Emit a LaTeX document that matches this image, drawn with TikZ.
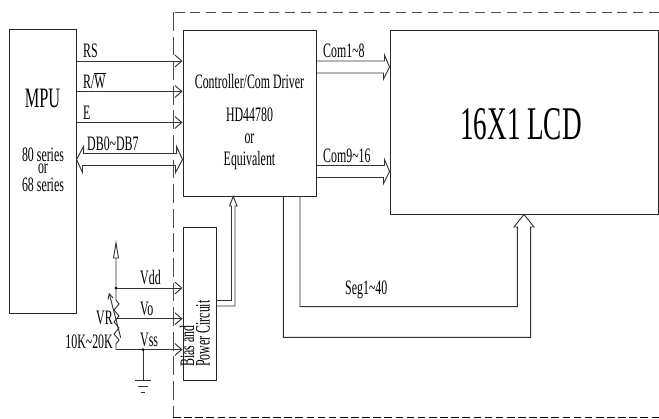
\documentclass[tikz,border=0pt]{standalone}
\usepackage{fontspec}
\usetikzlibrary{arrows.meta}
\newfontfamily\lcdfont[FakeStretch=0.58]{Liberation Serif}
\tikzset{
	box/.style={draw=black!85, line width=.8pt, inner sep=0pt, font=\lcdfont},
	txt/.style={inner sep=0pt, font=\lcdfont\fontsize{17.5}{17.5}\selectfont},
	txtbig/.style={inner sep=0pt, font=\lcdfont\fontsize{24}{24}\selectfont},
	wire/.style={draw=black!80, line width=.8pt},
	sig/.style={wire, -{Straight Barb[length=2.1mm,width=3.6mm]}},
	frame/.style={draw=black!70, line width=.8pt}
}
\begin{document}
\begin{tikzpicture}[x=0.03cm, y=-0.03cm]
	\useasboundingbox (0,0) rectangle (659,419);

	% BOXES
	\node[box, minimum width=2.0cm, minimum height=8.5cm] (mpu) at (42.75,171.5) {};
	\node[box, minimum width=4.005cm, minimum height=4.98cm] (ctrl) at (249.75,113) {};
	\node[box, minimum width=8.04cm, minimum height=5.52cm] (lcd) at (524,122) {};
	\node[box, minimum width=.99cm, minimum height=4.59cm] (bias) at (199.5,303.5) {};

	% FRAME
	\coordinate (f0) at (659,12);
	\coordinate (f1) at (173,12);
	\coordinate (f2) at (173,417);
	\coordinate (f3) at (659,417);
	\draw[frame, dash pattern=on 8.5pt off 5pt] (f0)--(f1);
	\draw[frame, dash pattern=on 16pt off 5pt] (f1)--(f2);
	\draw[frame, black, dash pattern=on 6.5pt off 3pt] (f2)--(f3);

	% MPU TEXT
	\node[txtbig] (tmpu) at (42.5,98) {MPU};
	\node[txt] (t80) at (43,155) {80 series};
	\node[txt] (tor) at (43,168.5) {or};
	\node[txt] (t68) at (43,185) {68 series};

	% CONTROLLER TEXT
	\node[txt] (tctrl) at (249.5,81) {Controller/Com Driver};
	\node[txt] (thd) at (249.5,115) {HD44780};
	\node[txt] (tor2) at (249.5,139) {or};
	\node[txt] (teq) at (249.5,161) {Equivalent};

	% LCD TEXT
	\node[inner sep=0pt, font=\lcdfont\fontsize{40}{40}\selectfont] (tlcd) at (521,124) {16X1 LCD};

	% BIAS TEXT
	\node[txt, rotate=90, anchor=west] (tbias) at (187,367) {Bias and};
	\node[txt, rotate=90, anchor=west] (tpower) at (203,367) {Power Circuit};

	% BUS LINES
	\draw[sig] (mpu.east |- 0,61) -- (ctrl.west |- 0,61);
	\draw[sig] (mpu.east |- 0,91.5) -- (ctrl.west |- 0,91.5);
	\draw[sig] (mpu.east |- 0,122.5) -- (ctrl.west |- 0,122.5);
	\node[txt, anchor=south west] (trs) at (83,58) {RS};
	\node[txt, anchor=south west] (trw) at (83,89) {R/$\overline{\mbox{W}}$};
	\node[txt, anchor=south west] (te) at (83,120) {E};
	\node[txt, anchor=south west] (tdb) at (87,151) {DB0\textasciitilde DB7};

	% WIDE ARROWS
	\draw[wire] (mpu.east |- 0,159.5) -- ++(7,-13) -- ++(0,7) -- ++(93,0) -- ++(0,-7)
		-- (ctrl.west |- 0,159.5) -- ++(-7,13) -- ++(0,-7) -- ++(-93,0) -- ++(0,7) -- cycle;
	\draw[wire] (ctrl.east |- 0,61) -- ++(67.5,0) -- ++(0,-6) -- (lcd.west |- 0,67) -- ++(-6,12) -- ++(0,-6) -- (ctrl.east |- 0,73);
	\draw[wire] (ctrl.east |- 0,165.5) -- ++(67.5,0) -- ++(0,-6) -- (lcd.west |- 0,171.5) -- ++(-6,12) -- ++(0,-6) -- (ctrl.east |- 0,177.5);
	\node[txt, anchor=south west] (tcom1) at (323,58) {Com1\textasciitilde 8};
	\node[txt, anchor=south west] (tcom9) at (323,163) {Com9\textasciitilde 16};

	% SEG BUS
	\draw[wire] (ctrl.south -| 300,0) -- (300,306.7) -- (517.3,306.7) -- (517.3,227) -- (514,227)
		-- (lcd.south -| 524,0) -- (534,227) -- (530.7,227) -- (530.7,337.3) -- (283.3,337.3) -- (ctrl.south -| 283.3,0);
	\node[txt, anchor=south west] (tseg) at (345,299) {Seg1\textasciitilde 40};

	% POWER TO CONTROLLER
	\draw[wire] (bias.east |- 0,300.5) -- (231.5,300.5) -- (231.5,206) -- (229.5,206)
		-- (ctrl.south -| 233.3,0) -- (237,206) -- (235,206) -- (235,306) -- (bias.east |- 0,306);

	% VOLTAGE LINES
	\coordinate (vtop) at (116,258);
	\coordinate (vdd) at (116,288);
	\coordinate (vo) at (116,318.7);
	\coordinate (vss) at (116,349.5);
	\coordinate (gnd) at (143,349.5);
	\draw[sig] (vdd) -- (bias.west |- vdd);
	\draw[sig] (vo) -- (bias.west |- vo);
	\draw[sig] (vss) -- (bias.west |- vss);
	\node[txt, anchor=south west] (tvdd) at (140,285) {Vdd};
	\node[txt, anchor=south west] (tvo) at (140,316) {Vo};
	\node[txt, anchor=south west] (tvss) at (140,347) {Vss};

	% SUPPLY ARROW
	\draw[wire] (vdd) -- (vtop) -- ++(-2.5,0) -- (116,243) -- (118.5,258) -- (vtop);

	% VR
	\draw[wire] (vdd) -- (116,300) -- (119,304) -- (114,310) -- (119,316) -- (114,322) -- (119,328) -- (114,334) -- (119,340) -- (116,344) -- (vss);
	\draw[wire, -{Straight Barb[length=1.6mm,width=1.6mm]}] (120.7,337.7) -- (109,292.7);
	\node[txt, anchor=east] (tvr) at (113,318) {VR};
	\node[txt, anchor=east] (tvrk) at (113,342) {10K\textasciitilde 20K};

	% GROUND
	\coordinate (g1) at (143,380);
	\draw[wire] (gnd) -- (g1);
	\draw[wire] (135,380) -- (151,380);
	\draw[wire] (138,386) -- (148,386);
	\draw[wire] (141,392) -- (145,392);

	% DOTS
	\fill (vdd) circle (1.5);
	\fill (gnd) circle (1.5);
\end{tikzpicture}
\end{document}
